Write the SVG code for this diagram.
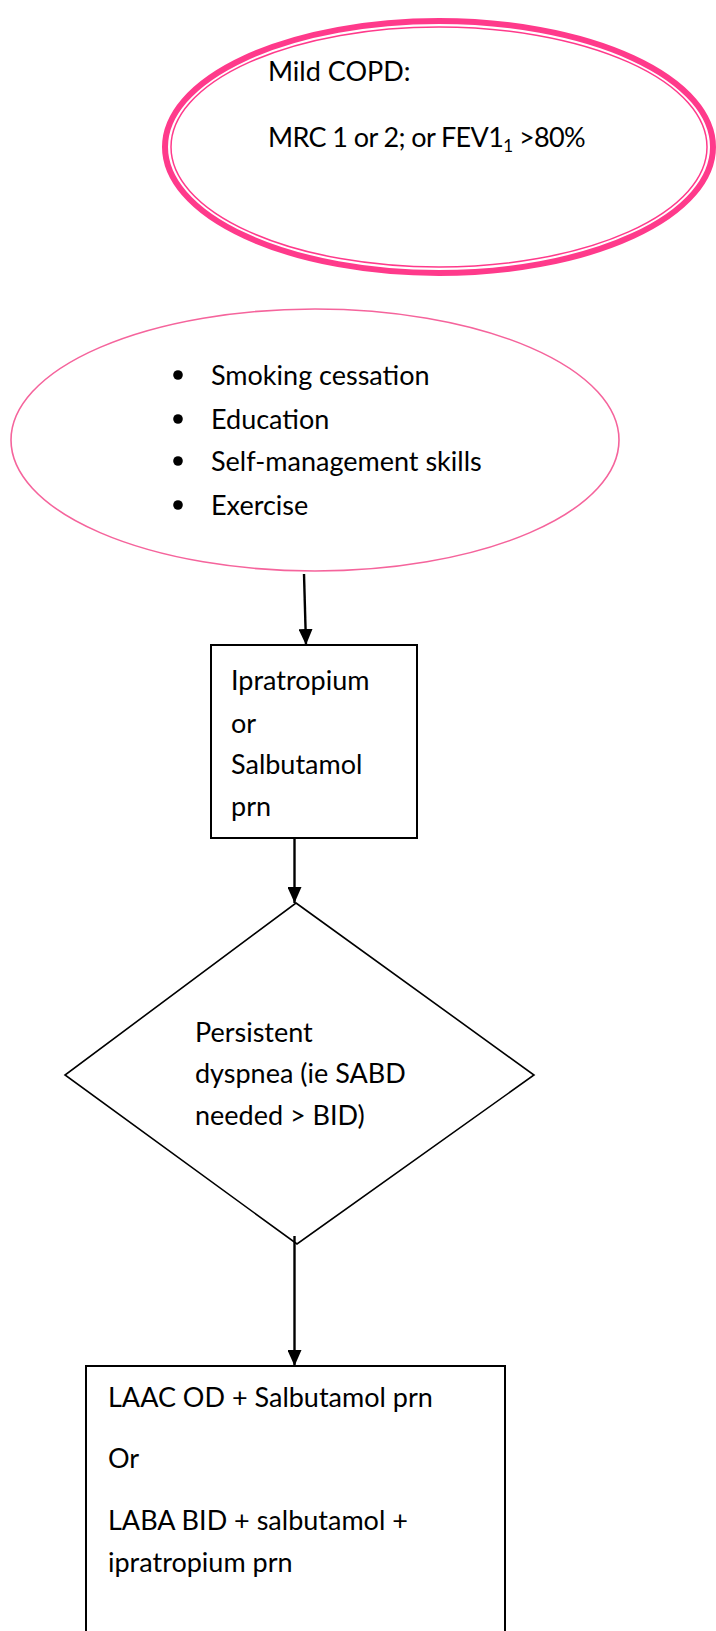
<svg xmlns="http://www.w3.org/2000/svg" width="716" height="1631" viewBox="0 0 716 1631">
  <style>
    text { font-family: Lato, "Open Sans", "Liberation Sans", sans-serif; font-size: 27px; fill: #000; }
    .ring-thick { fill: none; stroke: #ff3a8b; stroke-width: 6; }
    .ring-thin { fill: none; stroke: #ff3a8b; stroke-width: 1.5; }
    .soft { fill: none; stroke: #f5649c; stroke-width: 1.6; }
    .box { fill: #fff; stroke: #000; stroke-width: 2; }
    .edge { stroke: #000; stroke-width: 2.4; fill: none; marker-end: url(#head); }
  </style>
  <defs>
    <marker id="head" viewBox="0 0 16 14" refX="16" refY="7" markerWidth="16" markerHeight="14" markerUnits="userSpaceOnUse" orient="auto">
      <path d="M0,0 L16,7 L0,14 Z" fill="#000"/>
    </marker>
  </defs>

  <rect width="716" height="1631" fill="#fff"/>

  <!-- Start: severity definition (double pink ring) -->
  <g id="mild-copd">
    <ellipse class="ring-thick" cx="439" cy="147" rx="274" ry="126"/>
    <ellipse class="ring-thin" cx="439" cy="147" rx="268" ry="120"/>
    <text x="268" y="81">Mild COPD:</text>
    <text x="268" y="147" letter-spacing="-0.6">MRC 1 or 2; or FEV1<tspan font-size="17" baseline-shift="-5">1</tspan> &gt;80%</text>
  </g>

  <!-- Non-drug measures -->
  <g id="basics">
    <ellipse class="soft" cx="315" cy="440" rx="304" ry="131"/>
    <circle cx="178" cy="375" r="4.8"/>
    <circle cx="178" cy="419" r="4.8"/>
    <circle cx="178" cy="461" r="4.8"/>
    <circle cx="178" cy="505" r="4.8"/>
    <text x="211" y="385">Smoking cessation</text>
    <text x="211" y="429">Education</text>
    <text x="211" y="471">Self-management skills</text>
    <text x="211" y="515">Exercise</text>
  </g>

  <!-- Short-acting bronchodilator -->
  <g id="sabd">
    <rect class="box" x="211" y="645" width="206" height="193"/>
    <text x="231" y="690">Ipratropium</text>
    <text x="231" y="733">or</text>
    <text x="231" y="774">Salbutamol</text>
    <text x="231" y="816">prn</text>
  </g>

  <!-- Decision -->
  <g id="dyspnea">
    <polygon points="296,903 534,1075 297,1244 65,1075" fill="#fff" stroke="#000" stroke-width="1.6"/>
    <text x="195" y="1042">Persistent</text>
    <text x="195" y="1083">dyspnea (ie SABD</text>
    <text x="195" y="1125">needed &gt; BID)</text>
  </g>

  <!-- Long-acting therapy -->
  <g id="long-acting">
    <rect class="box" x="86" y="1366" width="419" height="290"/>
    <text x="108" y="1407">LAAC OD + Salbutamol prn</text>
    <text x="108" y="1468">Or</text>
    <text x="108" y="1530">LABA BID + salbutamol +</text>
    <text x="108" y="1572">ipratropium prn</text>
  </g>

  <g id="connectors">
    <path class="edge" d="M304,574 L306,645"/>
    <path class="edge" d="M294.5,838 L294.5,903"/>
    <path class="edge" d="M294.5,1236 L294.5,1366"/>
  </g>
</svg>
